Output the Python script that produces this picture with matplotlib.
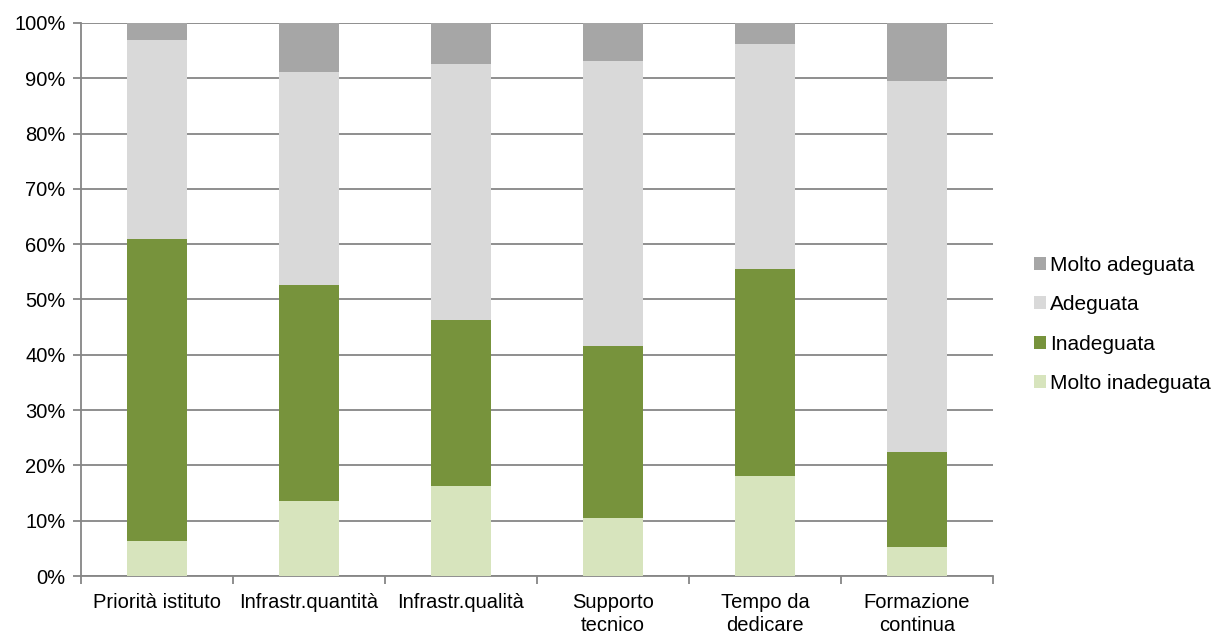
import matplotlib
matplotlib.use("Agg")
import matplotlib.pyplot as plt
from matplotlib.patches import Patch
from matplotlib.ticker import PercentFormatter, FixedLocator
import numpy as np

plt.rcParams['font.family'] = ['Liberation Sans', 'DejaVu Sans']

categories = ["Priorità istituto", "Infrastr.quantità", "Infrastr.qualità",
              "Supporto\ntecnico", "Tempo da\ndedicare", "Formazione\ncontinua"]
series_names = ["Molto inadeguata", "Inadeguata", "Adeguata", "Molto adeguata"]
molto_inadeguata = [6.4, 13.6, 16.3, 10.4, 18.1, 5.2]
inadeguata = [54.5, 39.0, 30.0, 31.2, 37.4, 17.2]
adeguata = [36.1, 38.5, 46.2, 51.5, 40.7, 67.1]
molto_adeguata = [3.0, 8.9, 7.5, 6.9, 3.8, 10.5]
colors = ["#D7E4BD", "#77933C", "#D9D9D9", "#A6A6A6"]

values = [molto_inadeguata, inadeguata, adeguata, molto_adeguata]

fig = plt.figure(figsize=(12.14, 6.35), dpi=100)
ax = fig.add_axes([0.0667, 0.0929, 0.7513, 0.8709])

x = np.arange(len(categories))
bottom = np.zeros(len(categories))
handles = []
for name, vals, col in zip(series_names, values, colors):
    ax.bar(x, vals, 0.4, bottom=bottom, color=col, edgecolor='none', zorder=3)
    bottom += np.array(vals)
    handles.append(Patch(facecolor=col, edgecolor='none', label=name))

ax.set_xlim(-0.5, len(categories) - 0.5)
ax.set_ylim(0, 100)
ax.yaxis.set_major_locator(FixedLocator(np.arange(0, 101, 10)))
ax.yaxis.set_major_formatter(PercentFormatter(decimals=0))
ax.grid(axis='y', color='#868686', linewidth=1.3, zorder=0)

ax.set_xticks(x)
ax.set_xticklabels(categories, fontsize=14.5, linespacing=1.32)
ax.tick_params(axis='x', length=0, pad=12)
# tick marks at category boundaries
ax.set_xticks(np.arange(-0.5, len(categories), 1.0), minor=True)
ax.tick_params(axis='x', which='minor', length=6, color='#868686', width=1.3, direction='out')
ax.tick_params(axis='y', length=6, color='#868686', width=1.3, labelsize=14.5, pad=5)

for side in ['top', 'right']:
    ax.spines[side].set_visible(False)
for side in ['left', 'bottom']:
    ax.spines[side].set_color('#868686')
    ax.spines[side].set_linewidth(1.3)

fig.legend(handles=handles[::-1], loc='center left', bbox_to_anchor=(0.836, 0.489),
           frameon=False, fontsize=15, handlelength=0.58, handleheight=0.58,
           handletextpad=0.2, labelspacing=0.98)

fig.savefig("out.png", dpi=100)
